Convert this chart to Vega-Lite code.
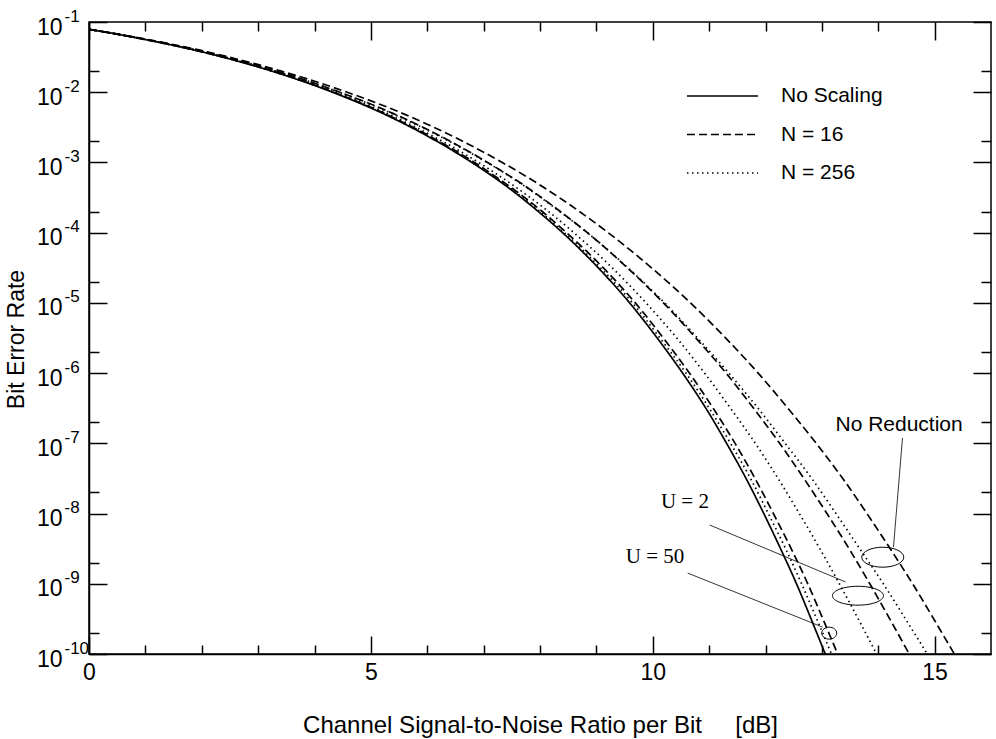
{
  "$schema": "https://vega.github.io/schema/vega-lite/v6.json",
  "width": 902,
  "height": 632,
  "autosize": {"type": "none"},
  "padding": {"left": 89, "top": 22, "right": 5, "bottom": 85},
  "background": "white",
  "config": {
    "view": {"stroke": "black", "strokeWidth": 1.5},
    "font": "Liberation Sans",
    "axis": {"grid": false, "tickColor": "black", "tickWidth": 1.5, "labelColor": "black", "titleColor": "black", "domainColor": "black"}
  },
  "datasets": {
    "curves": [
      {"curve": "No Scaling", "scaling": "No Scaling", "snr": 0, "ber": 0.0786},
      {"curve": "No Scaling", "scaling": "No Scaling", "snr": 0.37, "ber": 0.07},
      {"curve": "No Scaling", "scaling": "No Scaling", "snr": 0.82, "ber": 0.06},
      {"curve": "No Scaling", "scaling": "No Scaling", "snr": 1.31, "ber": 0.05},
      {"curve": "No Scaling", "scaling": "No Scaling", "snr": 1.86, "ber": 0.04},
      {"curve": "No Scaling", "scaling": "No Scaling", "snr": 2.48, "ber": 0.03},
      {"curve": "No Scaling", "scaling": "No Scaling", "snr": 3.24, "ber": 0.02},
      {"curve": "No Scaling", "scaling": "No Scaling", "snr": 4.32, "ber": 0.01},
      {"curve": "No Scaling", "scaling": "No Scaling", "snr": 5.21, "ber": 0.005},
      {"curve": "No Scaling", "scaling": "No Scaling", "snr": 6.17, "ber": 0.002},
      {"curve": "No Scaling", "scaling": "No Scaling", "snr": 6.79, "ber": 0.001},
      {"curve": "No Scaling", "scaling": "No Scaling", "snr": 7.34, "ber": 0.0005},
      {"curve": "No Scaling", "scaling": "No Scaling", "snr": 7.97, "ber": 0.0002},
      {"curve": "No Scaling", "scaling": "No Scaling", "snr": 8.40, "ber": 0.0001},
      {"curve": "No Scaling", "scaling": "No Scaling", "snr": 9.06, "ber": 3e-5},
      {"curve": "No Scaling", "scaling": "No Scaling", "snr": 9.59, "ber": 1e-5},
      {"curve": "No Scaling", "scaling": "No Scaling", "snr": 10.10, "ber": 3e-6},
      {"curve": "No Scaling", "scaling": "No Scaling", "snr": 10.53, "ber": 1e-6},
      {"curve": "No Scaling", "scaling": "No Scaling", "snr": 10.96, "ber": 3e-7},
      {"curve": "No Scaling", "scaling": "No Scaling", "snr": 11.31, "ber": 1e-7},
      {"curve": "No Scaling", "scaling": "No Scaling", "snr": 11.67, "ber": 3e-8},
      {"curve": "No Scaling", "scaling": "No Scaling", "snr": 11.97, "ber": 1e-8},
      {"curve": "No Scaling", "scaling": "No Scaling", "snr": 12.28, "ber": 3e-9},
      {"curve": "No Scaling", "scaling": "No Scaling", "snr": 12.55, "ber": 1e-9},
      {"curve": "No Scaling", "scaling": "No Scaling", "snr": 12.82, "ber": 3e-10},
      {"curve": "No Scaling", "scaling": "No Scaling", "snr": 13.06, "ber": 1e-10},

      {"curve": "U50 N16", "scaling": "N = 16", "snr": 0, "ber": 0.0786},
      {"curve": "U50 N16", "scaling": "N = 16", "snr": 0.37, "ber": 0.07},
      {"curve": "U50 N16", "scaling": "N = 16", "snr": 0.82, "ber": 0.06},
      {"curve": "U50 N16", "scaling": "N = 16", "snr": 1.32, "ber": 0.05},
      {"curve": "U50 N16", "scaling": "N = 16", "snr": 1.87, "ber": 0.04},
      {"curve": "U50 N16", "scaling": "N = 16", "snr": 2.49, "ber": 0.03},
      {"curve": "U50 N16", "scaling": "N = 16", "snr": 3.26, "ber": 0.02},
      {"curve": "U50 N16", "scaling": "N = 16", "snr": 4.34, "ber": 0.01},
      {"curve": "U50 N16", "scaling": "N = 16", "snr": 5.24, "ber": 0.005},
      {"curve": "U50 N16", "scaling": "N = 16", "snr": 6.21, "ber": 0.002},
      {"curve": "U50 N16", "scaling": "N = 16", "snr": 6.84, "ber": 0.001},
      {"curve": "U50 N16", "scaling": "N = 16", "snr": 7.39, "ber": 0.0005},
      {"curve": "U50 N16", "scaling": "N = 16", "snr": 8.04, "ber": 0.0002},
      {"curve": "U50 N16", "scaling": "N = 16", "snr": 8.47, "ber": 0.0001},
      {"curve": "U50 N16", "scaling": "N = 16", "snr": 9.15, "ber": 3e-5},
      {"curve": "U50 N16", "scaling": "N = 16", "snr": 9.69, "ber": 1e-5},
      {"curve": "U50 N16", "scaling": "N = 16", "snr": 10.21, "ber": 3e-6},
      {"curve": "U50 N16", "scaling": "N = 16", "snr": 10.65, "ber": 1e-6},
      {"curve": "U50 N16", "scaling": "N = 16", "snr": 11.09, "ber": 3e-7},
      {"curve": "U50 N16", "scaling": "N = 16", "snr": 11.46, "ber": 1e-7},
      {"curve": "U50 N16", "scaling": "N = 16", "snr": 11.83, "ber": 3e-8},
      {"curve": "U50 N16", "scaling": "N = 16", "snr": 12.14, "ber": 1e-8},
      {"curve": "U50 N16", "scaling": "N = 16", "snr": 12.47, "ber": 3e-9},
      {"curve": "U50 N16", "scaling": "N = 16", "snr": 12.75, "ber": 1e-9},
      {"curve": "U50 N16", "scaling": "N = 16", "snr": 13.03, "ber": 3e-10},
      {"curve": "U50 N16", "scaling": "N = 16", "snr": 13.28, "ber": 1e-10},

      {"curve": "U50 N256", "scaling": "N = 256", "snr": 0, "ber": 0.0786},
      {"curve": "U50 N256", "scaling": "N = 256", "snr": 0.37, "ber": 0.07},
      {"curve": "U50 N256", "scaling": "N = 256", "snr": 0.82, "ber": 0.06},
      {"curve": "U50 N256", "scaling": "N = 256", "snr": 1.31, "ber": 0.05},
      {"curve": "U50 N256", "scaling": "N = 256", "snr": 1.86, "ber": 0.04},
      {"curve": "U50 N256", "scaling": "N = 256", "snr": 2.49, "ber": 0.03},
      {"curve": "U50 N256", "scaling": "N = 256", "snr": 3.25, "ber": 0.02},
      {"curve": "U50 N256", "scaling": "N = 256", "snr": 4.33, "ber": 0.01},
      {"curve": "U50 N256", "scaling": "N = 256", "snr": 5.22, "ber": 0.005},
      {"curve": "U50 N256", "scaling": "N = 256", "snr": 6.19, "ber": 0.002},
      {"curve": "U50 N256", "scaling": "N = 256", "snr": 6.81, "ber": 0.001},
      {"curve": "U50 N256", "scaling": "N = 256", "snr": 7.36, "ber": 0.0005},
      {"curve": "U50 N256", "scaling": "N = 256", "snr": 8.00, "ber": 0.0002},
      {"curve": "U50 N256", "scaling": "N = 256", "snr": 8.43, "ber": 0.0001},
      {"curve": "U50 N256", "scaling": "N = 256", "snr": 9.10, "ber": 3e-5},
      {"curve": "U50 N256", "scaling": "N = 256", "snr": 9.64, "ber": 1e-5},
      {"curve": "U50 N256", "scaling": "N = 256", "snr": 10.15, "ber": 3e-6},
      {"curve": "U50 N256", "scaling": "N = 256", "snr": 10.59, "ber": 1e-6},
      {"curve": "U50 N256", "scaling": "N = 256", "snr": 11.02, "ber": 3e-7},
      {"curve": "U50 N256", "scaling": "N = 256", "snr": 11.38, "ber": 1e-7},
      {"curve": "U50 N256", "scaling": "N = 256", "snr": 11.75, "ber": 3e-8},
      {"curve": "U50 N256", "scaling": "N = 256", "snr": 12.05, "ber": 1e-8},
      {"curve": "U50 N256", "scaling": "N = 256", "snr": 12.37, "ber": 3e-9},
      {"curve": "U50 N256", "scaling": "N = 256", "snr": 12.64, "ber": 1e-9},
      {"curve": "U50 N256", "scaling": "N = 256", "snr": 12.92, "ber": 3e-10},
      {"curve": "U50 N256", "scaling": "N = 256", "snr": 13.17, "ber": 1e-10},

      {"curve": "U2 N16", "scaling": "N = 16", "snr": 0, "ber": 0.0786},
      {"curve": "U2 N16", "scaling": "N = 16", "snr": 0.38, "ber": 0.07},
      {"curve": "U2 N16", "scaling": "N = 16", "snr": 0.84, "ber": 0.06},
      {"curve": "U2 N16", "scaling": "N = 16", "snr": 1.34, "ber": 0.05},
      {"curve": "U2 N16", "scaling": "N = 16", "snr": 1.90, "ber": 0.04},
      {"curve": "U2 N16", "scaling": "N = 16", "snr": 2.54, "ber": 0.03},
      {"curve": "U2 N16", "scaling": "N = 16", "snr": 3.33, "ber": 0.02},
      {"curve": "U2 N16", "scaling": "N = 16", "snr": 4.45, "ber": 0.01},
      {"curve": "U2 N16", "scaling": "N = 16", "snr": 5.39, "ber": 0.005},
      {"curve": "U2 N16", "scaling": "N = 16", "snr": 6.41, "ber": 0.002},
      {"curve": "U2 N16", "scaling": "N = 16", "snr": 7.07, "ber": 0.001},
      {"curve": "U2 N16", "scaling": "N = 16", "snr": 7.67, "ber": 0.0005},
      {"curve": "U2 N16", "scaling": "N = 16", "snr": 8.36, "ber": 0.0002},
      {"curve": "U2 N16", "scaling": "N = 16", "snr": 8.84, "ber": 0.0001},
      {"curve": "U2 N16", "scaling": "N = 16", "snr": 9.58, "ber": 3e-5},
      {"curve": "U2 N16", "scaling": "N = 16", "snr": 10.19, "ber": 1e-5},
      {"curve": "U2 N16", "scaling": "N = 16", "snr": 10.79, "ber": 3e-6},
      {"curve": "U2 N16", "scaling": "N = 16", "snr": 11.30, "ber": 1e-6},
      {"curve": "U2 N16", "scaling": "N = 16", "snr": 11.81, "ber": 3e-7},
      {"curve": "U2 N16", "scaling": "N = 16", "snr": 12.25, "ber": 1e-7},
      {"curve": "U2 N16", "scaling": "N = 16", "snr": 12.70, "ber": 3e-8},
      {"curve": "U2 N16", "scaling": "N = 16", "snr": 13.09, "ber": 1e-8},
      {"curve": "U2 N16", "scaling": "N = 16", "snr": 13.50, "ber": 3e-9},
      {"curve": "U2 N16", "scaling": "N = 16", "snr": 13.85, "ber": 1e-9},
      {"curve": "U2 N16", "scaling": "N = 16", "snr": 14.22, "ber": 3e-10},
      {"curve": "U2 N16", "scaling": "N = 16", "snr": 14.55, "ber": 1e-10},

      {"curve": "U2 N256", "scaling": "N = 256", "snr": 0, "ber": 0.0786},
      {"curve": "U2 N256", "scaling": "N = 256", "snr": 0.37, "ber": 0.07},
      {"curve": "U2 N256", "scaling": "N = 256", "snr": 0.83, "ber": 0.06},
      {"curve": "U2 N256", "scaling": "N = 256", "snr": 1.32, "ber": 0.05},
      {"curve": "U2 N256", "scaling": "N = 256", "snr": 1.88, "ber": 0.04},
      {"curve": "U2 N256", "scaling": "N = 256", "snr": 2.50, "ber": 0.03},
      {"curve": "U2 N256", "scaling": "N = 256", "snr": 3.27, "ber": 0.02},
      {"curve": "U2 N256", "scaling": "N = 256", "snr": 4.37, "ber": 0.01},
      {"curve": "U2 N256", "scaling": "N = 256", "snr": 5.28, "ber": 0.005},
      {"curve": "U2 N256", "scaling": "N = 256", "snr": 6.27, "ber": 0.002},
      {"curve": "U2 N256", "scaling": "N = 256", "snr": 6.91, "ber": 0.001},
      {"curve": "U2 N256", "scaling": "N = 256", "snr": 7.48, "ber": 0.0005},
      {"curve": "U2 N256", "scaling": "N = 256", "snr": 8.15, "ber": 0.0002},
      {"curve": "U2 N256", "scaling": "N = 256", "snr": 8.60, "ber": 0.0001},
      {"curve": "U2 N256", "scaling": "N = 256", "snr": 9.31, "ber": 3e-5},
      {"curve": "U2 N256", "scaling": "N = 256", "snr": 9.88, "ber": 1e-5},
      {"curve": "U2 N256", "scaling": "N = 256", "snr": 10.45, "ber": 3e-6},
      {"curve": "U2 N256", "scaling": "N = 256", "snr": 10.92, "ber": 1e-6},
      {"curve": "U2 N256", "scaling": "N = 256", "snr": 11.40, "ber": 3e-7},
      {"curve": "U2 N256", "scaling": "N = 256", "snr": 11.82, "ber": 1e-7},
      {"curve": "U2 N256", "scaling": "N = 256", "snr": 12.24, "ber": 3e-8},
      {"curve": "U2 N256", "scaling": "N = 256", "snr": 12.60, "ber": 1e-8},
      {"curve": "U2 N256", "scaling": "N = 256", "snr": 12.98, "ber": 3e-9},
      {"curve": "U2 N256", "scaling": "N = 256", "snr": 13.31, "ber": 1e-9},
      {"curve": "U2 N256", "scaling": "N = 256", "snr": 13.66, "ber": 3e-10},
      {"curve": "U2 N256", "scaling": "N = 256", "snr": 13.97, "ber": 1e-10},

      {"curve": "NR N16", "scaling": "N = 16", "snr": 0, "ber": 0.0786},
      {"curve": "NR N16", "scaling": "N = 16", "snr": 0.39, "ber": 0.07},
      {"curve": "NR N16", "scaling": "N = 16", "snr": 0.86, "ber": 0.06},
      {"curve": "NR N16", "scaling": "N = 16", "snr": 1.37, "ber": 0.05},
      {"curve": "NR N16", "scaling": "N = 16", "snr": 1.95, "ber": 0.04},
      {"curve": "NR N16", "scaling": "N = 16", "snr": 2.60, "ber": 0.03},
      {"curve": "NR N16", "scaling": "N = 16", "snr": 3.41, "ber": 0.02},
      {"curve": "NR N16", "scaling": "N = 16", "snr": 4.58, "ber": 0.01},
      {"curve": "NR N16", "scaling": "N = 16", "snr": 5.56, "ber": 0.005},
      {"curve": "NR N16", "scaling": "N = 16", "snr": 6.63, "ber": 0.002},
      {"curve": "NR N16", "scaling": "N = 16", "snr": 7.33, "ber": 0.001},
      {"curve": "NR N16", "scaling": "N = 16", "snr": 7.96, "ber": 0.0005},
      {"curve": "NR N16", "scaling": "N = 16", "snr": 8.70, "ber": 0.0002},
      {"curve": "NR N16", "scaling": "N = 16", "snr": 9.21, "ber": 0.0001},
      {"curve": "NR N16", "scaling": "N = 16", "snr": 10.01, "ber": 3e-5},
      {"curve": "NR N16", "scaling": "N = 16", "snr": 10.67, "ber": 1e-5},
      {"curve": "NR N16", "scaling": "N = 16", "snr": 11.32, "ber": 3e-6},
      {"curve": "NR N16", "scaling": "N = 16", "snr": 11.87, "ber": 1e-6},
      {"curve": "NR N16", "scaling": "N = 16", "snr": 12.42, "ber": 3e-7},
      {"curve": "NR N16", "scaling": "N = 16", "snr": 12.90, "ber": 1e-7},
      {"curve": "NR N16", "scaling": "N = 16", "snr": 13.39, "ber": 3e-8},
      {"curve": "NR N16", "scaling": "N = 16", "snr": 13.80, "ber": 1e-8},
      {"curve": "NR N16", "scaling": "N = 16", "snr": 14.23, "ber": 3e-9},
      {"curve": "NR N16", "scaling": "N = 16", "snr": 14.61, "ber": 1e-9},
      {"curve": "NR N16", "scaling": "N = 16", "snr": 15.00, "ber": 3e-10},
      {"curve": "NR N16", "scaling": "N = 16", "snr": 15.35, "ber": 1e-10},

      {"curve": "NR N256", "scaling": "N = 256", "snr": 0, "ber": 0.0786},
      {"curve": "NR N256", "scaling": "N = 256", "snr": 0.38, "ber": 0.07},
      {"curve": "NR N256", "scaling": "N = 256", "snr": 0.84, "ber": 0.06},
      {"curve": "NR N256", "scaling": "N = 256", "snr": 1.34, "ber": 0.05},
      {"curve": "NR N256", "scaling": "N = 256", "snr": 1.90, "ber": 0.04},
      {"curve": "NR N256", "scaling": "N = 256", "snr": 2.53, "ber": 0.03},
      {"curve": "NR N256", "scaling": "N = 256", "snr": 3.32, "ber": 0.02},
      {"curve": "NR N256", "scaling": "N = 256", "snr": 4.44, "ber": 0.01},
      {"curve": "NR N256", "scaling": "N = 256", "snr": 5.37, "ber": 0.005},
      {"curve": "NR N256", "scaling": "N = 256", "snr": 6.39, "ber": 0.002},
      {"curve": "NR N256", "scaling": "N = 256", "snr": 7.06, "ber": 0.001},
      {"curve": "NR N256", "scaling": "N = 256", "snr": 7.66, "ber": 0.0005},
      {"curve": "NR N256", "scaling": "N = 256", "snr": 8.35, "ber": 0.0002},
      {"curve": "NR N256", "scaling": "N = 256", "snr": 8.84, "ber": 0.0001},
      {"curve": "NR N256", "scaling": "N = 256", "snr": 9.59, "ber": 3e-5},
      {"curve": "NR N256", "scaling": "N = 256", "snr": 10.21, "ber": 1e-5},
      {"curve": "NR N256", "scaling": "N = 256", "snr": 10.82, "ber": 3e-6},
      {"curve": "NR N256", "scaling": "N = 256", "snr": 11.35, "ber": 1e-6},
      {"curve": "NR N256", "scaling": "N = 256", "snr": 11.89, "ber": 3e-7},
      {"curve": "NR N256", "scaling": "N = 256", "snr": 12.35, "ber": 1e-7},
      {"curve": "NR N256", "scaling": "N = 256", "snr": 12.84, "ber": 3e-8},
      {"curve": "NR N256", "scaling": "N = 256", "snr": 13.25, "ber": 1e-8},
      {"curve": "NR N256", "scaling": "N = 256", "snr": 13.69, "ber": 3e-9},
      {"curve": "NR N256", "scaling": "N = 256", "snr": 14.09, "ber": 1e-9},
      {"curve": "NR N256", "scaling": "N = 256", "snr": 14.50, "ber": 3e-10},
      {"curve": "NR N256", "scaling": "N = 256", "snr": 14.87, "ber": 1e-10}
    ],
    "ellipses": [
      {"group": "U2", "snr": 13.64, "ber": 6.76e-10},
      {"group": "NR", "snr": 14.08, "ber": 2.39e-9},
      {"group": "U50", "snr": 13.13, "ber": 1.98e-10}
    ],
    "leaders": [
      {"group": "NR", "snr": 14.43, "ber": 1.19e-7, "snr2": 14.27, "ber2": 3.33e-9},
      {"group": "U2", "snr": 11.01, "ber": 6.87e-9, "snr2": 13.42, "ber2": 1.06e-9},
      {"group": "U50", "snr": 10.62, "ber": 1.42e-9, "snr2": 13.01, "ber2": 2.42e-10}
    ],
    "labels": [
      {"group": "NR", "text": "No Reduction", "snr": 14.37, "ber": 1.82e-7},
      {"group": "U2", "text": "U = 2", "snr": 10.57, "ber": 1.48e-8},
      {"group": "U50", "text": "U = 50", "snr": 10.04, "ber": 2.37e-9}
    ]
  },
  "resolve": {"axis": {"x": "independent", "y": "independent"}},
  "layer": [
    {
      "data": {"name": "curves"},
      "mark": {"type": "line", "color": "black", "strokeWidth": 1.7, "interpolate": "monotone", "clip": true},
      "encoding": {
        "x": {
          "field": "snr", "type": "quantitative",
          "scale": {"domain": [0, 16], "nice": false, "zero": false},
          "axis": {
            "orient": "bottom", "values": [0, 5, 10, 15], "tickSize": -18, "labelPadding": 25,
            "labelFontSize": 23, "labelFont": "Liberation Sans", "labelFlush": false, "labelOverlap": false,
            "domain": true, "domainWidth": 1.5,
            "title": "Channel Signal-to-Noise Ratio per Bit\u00a0\u00a0\u00a0\u00a0\u00a0[dB]",
            "titleFontSize": 24, "titleFont": "Liberation Sans", "titleFontWeight": "normal",
            "titleBaseline": "alphabetic", "titleY": 78
          }
        },
        "y": {
          "field": "ber", "type": "quantitative",
          "scale": {"type": "log", "domain": [1e-10, 0.1], "nice": false},
          "axis": {
            "orient": "left",
            "values": [1e-10, 1e-9, 1e-8, 1e-7, 1e-6, 1e-5, 1e-4, 1e-3, 1e-2, 1e-1],
            "labelExpr": "'10'",
            "tickSize": -18, "labelPadding": 45, "labelOffset": 5,
            "labelFontSize": 23, "labelFont": "Liberation Sans", "labelFlush": false, "labelOverlap": false,
            "domain": true, "domainWidth": 1.5,
            "title": "Bit Error Rate", "titleFontSize": 23, "titleFont": "Liberation Sans", "titleFontWeight": "normal",
            "titleX": -73, "titleY": 317, "titleAngle": -90, "titleAlign": "center", "titleBaseline": "middle"
          }
        },
        "detail": {"field": "curve", "type": "nominal"},
        "strokeDash": {
          "field": "scaling", "type": "nominal",
          "scale": {"domain": ["No Scaling", "N = 16", "N = 256"], "range": [[1, 0], [8, 4], [1.5, 3.5]]},
          "legend": {
            "orient": "none", "legendX": 597, "legendY": 62, "title": null, "padding": 0,
            "symbolType": "stroke", "symbolSize": 5041, "symbolStrokeWidth": 1.6, "symbolStrokeColor": "black",
            "clipHeight": 24, "rowPadding": 14.5, "labelOffset": 22,
            "labelFontSize": 21, "labelFont": "Liberation Sans", "labelColor": "black"
          }
        }
      }
    },
    {
      "data": {"name": "ellipses"},
      "transform": [{"filter": "datum.group === 'U2'"}],
      "mark": {"type": "point", "shape": "M -1 0 A 1 0.37 0 1 0 1 0 A 1 0.37 0 1 0 -1 0 Z", "size": 2601, "filled": false, "stroke": "black", "strokeWidth": 1, "opacity": 1},
      "encoding": {
        "x": {
          "field": "snr", "type": "quantitative",
          "scale": {"domain": [0, 16], "nice": false, "zero": false},
          "axis": {"orient": "bottom", "values": [1, 2, 3, 4, 6, 7, 8, 9, 11, 12, 13, 14], "tickSize": -9, "labels": false, "domain": false, "title": null}
        },
        "y": {
          "field": "ber", "type": "quantitative",
          "scale": {"type": "log", "domain": [1e-10, 0.1], "nice": false},
          "axis": {"orient": "left", "values": [2e-10, 2e-9, 2e-8, 2e-7, 2e-6, 2e-5, 2e-4, 2e-3, 2e-2], "tickSize": -10, "labels": false, "domain": false, "title": null}
        }
      }
    },
    {
      "data": {"name": "ellipses"},
      "transform": [{"filter": "datum.group === 'NR'"}],
      "mark": {"type": "point", "shape": "M -1 0 A 1 0.476 0 1 0 1 0 A 1 0.476 0 1 0 -1 0 Z", "size": 1764, "filled": false, "stroke": "black", "strokeWidth": 1, "opacity": 1},
      "encoding": {
        "x": {
          "field": "snr", "type": "quantitative",
          "scale": {"domain": [0, 16], "nice": false, "zero": false},
          "axis": {"orient": "top", "values": [0, 5, 10, 15], "tickSize": -18, "labels": false, "domain": false, "title": null}
        },
        "y": {
          "field": "ber", "type": "quantitative",
          "scale": {"type": "log", "domain": [1e-10, 0.1], "nice": false},
          "axis": {"orient": "right", "values": [1e-10, 1e-9, 1e-8, 1e-7, 1e-6, 1e-5, 1e-4, 1e-3, 1e-2, 1e-1], "tickSize": -18, "labels": false, "domain": false, "title": null}
        }
      }
    },
    {
      "data": {"name": "ellipses"},
      "transform": [{"filter": "datum.group === 'U50'"}],
      "mark": {"type": "point", "shape": "M -1 0 A 1 0.8 0 1 0 1 0 A 1 0.8 0 1 0 -1 0 Z", "size": 225, "filled": false, "stroke": "black", "strokeWidth": 1, "opacity": 1},
      "encoding": {
        "x": {
          "field": "snr", "type": "quantitative",
          "scale": {"domain": [0, 16], "nice": false, "zero": false},
          "axis": {"orient": "top", "values": [1, 2, 3, 4, 6, 7, 8, 9, 11, 12, 13, 14], "tickSize": -9, "labels": false, "domain": false, "title": null}
        },
        "y": {
          "field": "ber", "type": "quantitative",
          "scale": {"type": "log", "domain": [1e-10, 0.1], "nice": false},
          "axis": {"orient": "right", "values": [2e-10, 2e-9, 2e-8, 2e-7, 2e-6, 2e-5, 2e-4, 2e-3, 2e-2], "tickSize": -10, "labels": false, "domain": false, "title": null}
        }
      }
    },
    {
      "data": {"name": "leaders"},
      "mark": {"type": "rule", "color": "black", "strokeWidth": 0.8},
      "encoding": {
        "x": {"field": "snr", "type": "quantitative", "scale": {"domain": [0, 16], "nice": false, "zero": false}, "axis": null},
        "y": {
          "field": "ber", "type": "quantitative",
          "scale": {"type": "log", "domain": [1e-10, 0.1], "nice": false},
          "axis": {
            "orient": "left",
            "values": [1e-10, 1e-9, 1e-8, 1e-7, 1e-6, 1e-5, 1e-4, 1e-3, 1e-2, 1e-1],
            "labelExpr": "'-' + round(-log(datum.value)/LN10)",
            "ticks": false, "tickSize": 0, "labelPadding": 25, "labelAlign": "left", "labelOffset": -6,
            "labelFontSize": 17, "labelFont": "Liberation Sans", "labelFlush": false, "labelOverlap": false,
            "domain": false, "title": null
          }
        },
        "x2": {"field": "snr2"},
        "y2": {"field": "ber2"}
      }
    },
    {
      "data": {"name": "labels"},
      "transform": [{"filter": "datum.group === 'NR'"}],
      "mark": {"type": "text", "font": "Liberation Sans", "fontSize": 21, "color": "black", "align": "center", "baseline": "middle"},
      "encoding": {
        "x": {"field": "snr", "type": "quantitative", "scale": {"domain": [0, 16], "nice": false, "zero": false}, "axis": null},
        "y": {"field": "ber", "type": "quantitative", "scale": {"type": "log", "domain": [1e-10, 0.1], "nice": false}, "axis": null},
        "text": {"field": "text"}
      }
    },
    {
      "data": {"name": "labels"},
      "transform": [{"filter": "datum.group !== 'NR'"}],
      "mark": {"type": "text", "font": "Liberation Serif", "fontSize": 21, "color": "black", "align": "center", "baseline": "middle"},
      "encoding": {
        "x": {"field": "snr", "type": "quantitative", "scale": {"domain": [0, 16], "nice": false, "zero": false}, "axis": null},
        "y": {"field": "ber", "type": "quantitative", "scale": {"type": "log", "domain": [1e-10, 0.1], "nice": false}, "axis": null},
        "text": {"field": "text"}
      }
    }
  ]
}
